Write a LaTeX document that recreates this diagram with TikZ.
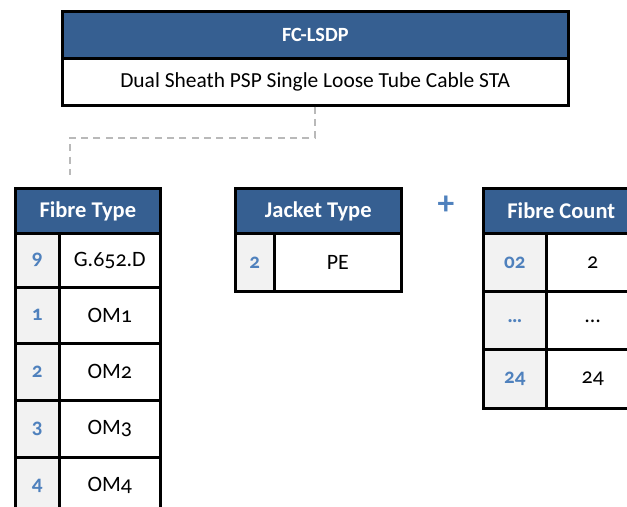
\documentclass[tikz,border=0pt]{standalone}
\usepackage{fontspec}
\setmainfont{Carlito}[Numbers=OldStyle]
\definecolor{hdrblue}{RGB}{54,95,145}
\definecolor{numblue}{RGB}{79,129,189}
\definecolor{cellgray}{RGB}{242,242,242}
\tikzset{
  cell/.style={draw, line width=1.5pt, inner sep=0pt, anchor=north west},
  hdr/.style={cell, fill=hdrblue, text=white, font=\fontsize{12.8}{14}\selectfont\bfseries},
  numcell/.style={cell, fill=cellgray, text=numblue, font=\fontsize{12}{13}\selectfont\bfseries},
  valcell/.style={cell, fill=white, font=\fontsize{12.5}{14}\selectfont},
  link/.style={gray!55, line width=1.1pt, dash pattern=on 4pt off 3pt}
}
\begin{document}
\begin{tikzpicture}[x=0.02cm, y=-0.02cm]
    \useasboundingbox (0,0) rectangle (627,507);
    \clip (0,0) rectangle (627,507);

    % Product code box
    \node[hdr, minimum width=10.12cm, minimum height=0.94cm,
          font=\fontsize{11.5}{13}\selectfont\bfseries] (code) at (61,10) {FC-LSDP};
    \node[valcell, minimum width=10.12cm, minimum height=0.94cm,
          font=\fontsize{12.2}{14}\selectfont] (desc) at (61,57) {Dual Sheath PSP Single Loose Tube Cable STA};

    % Fibre type table
    \node[hdr, minimum width=2.9cm, minimum height=0.89cm] (fthead) at (14,187.5) {Fibre Type};
    \foreach \num/\val/\y/\h in {9/G.652.D/232/1.08, 1/OM1/286/1.12, 2/OM2/342/1.14, 3/OM3/399/1.14, 4/OM4/456/1.14}{
        \node[numcell, minimum width=0.88cm, minimum height=\h cm] (ftn\num) at (14,\y) {\num};
        \node[valcell, minimum width=2.02cm, minimum height=\h cm] (ftv\num) at (58,\y) {\val};
    }

    % Jacket type table
    \node[hdr, minimum width=3.32cm, minimum height=0.89cm] (jthead) at (234,187.5) {Jacket Type};
    \node[numcell, minimum width=0.78cm, minimum height=1.16cm] (jtn) at (234,232) {2};
    \node[valcell, minimum width=2.54cm, minimum height=1.16cm] (jtv) at (273,232) {PE};

    \node[text=numblue, font=\fontsize{19}{20}\selectfont\bfseries] (plus) at (446,205) {+};

    % Fibre count table
    \node[hdr, minimum width=3.12cm, minimum height=0.89cm] (fchead) at (482,187.5) {Fibre Count};
    \foreach \num/\val/\y [count=\i] in {02/2/232, …/…/290.5, 24/24/348.5}{
        \node[numcell, minimum width=1.26cm, minimum height=1.17cm] (fcn\i) at (482,\y) {\num};
        \node[valcell, minimum width=1.86cm, minimum height=1.17cm] (fcv\i) at (545,\y) {\val};
    }

    % Link from code to fibre type
    \coordinate (lnkend) at (70,175);
    \draw[link] (desc.south) -- ++(0,31) -| (lnkend);
\end{tikzpicture}
\end{document}
